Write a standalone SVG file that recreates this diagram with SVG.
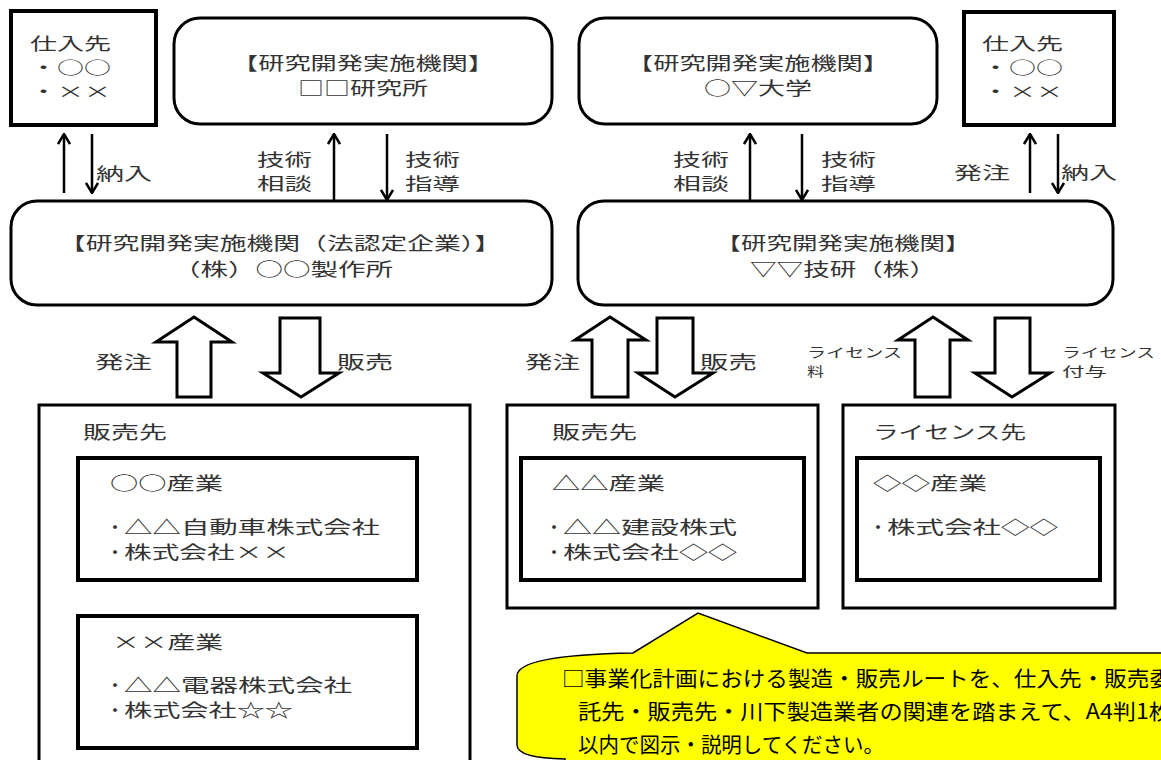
<svg xmlns="http://www.w3.org/2000/svg" width="1161" height="760" viewBox="0 0 1161 760">
<style>
.t{font-family:"Noto Sans CJK JP","Noto Sans CJK SC",sans-serif;font-size:18px;fill:#333}
.k{font-family:"Noto Sans CJK JP","Noto Sans CJK SC",sans-serif;font-size:16.5px;fill:#333}
.s{font-family:"Noto Sans CJK JP","Noto Sans CJK SC",sans-serif;font-size:13px;fill:#333}
.c{font-family:"Noto Sans CJK JP","Noto Sans CJK SC",sans-serif;font-size:21px;fill:#000}
.m{text-anchor:middle}
.box{fill:#fff;stroke:#000;stroke-width:4}
.ob{fill:#fff;stroke:#000;stroke-width:3}
.rb{fill:#fff;stroke:#000;stroke-width:3}
.ln{fill:none;stroke:#000;stroke-width:2.5;marker-end:url(#ah)}
.blk{fill:#fff;stroke:#000;stroke-width:3;stroke-linejoin:miter}
</style>
<defs>
<marker id="ah" viewBox="0 0 12 14" refX="11" refY="7" markerWidth="12" markerHeight="14" markerUnits="userSpaceOnUse" orient="auto">
<path d="M1,1 L11,7 L1,13" fill="none" stroke="#000" stroke-width="2.5"/>
</marker>
</defs>
<rect width="1161" height="760" fill="#fff"/>

<g id="supplier-left">
<rect class="box" x="11" y="11" width="145" height="114"/>
<text class="k" x="30" y="50" textLength="81" lengthAdjust="spacingAndGlyphs">仕入先</text>
<text class="k" x="30" y="74" textLength="81" lengthAdjust="spacingAndGlyphs">・○○</text>
<text class="k" x="30" y="98" textLength="81" lengthAdjust="spacingAndGlyphs">・××</text>
</g>

<g id="lab-left">
<rect class="rb" x="174" y="18" width="378" height="106" rx="26"/>
<text class="t m" x="363" y="70" textLength="262" lengthAdjust="spacingAndGlyphs">【研究開発実施機関】</text>
<text class="t m" x="363" y="95" textLength="130" lengthAdjust="spacingAndGlyphs">□□研究所</text>
</g>

<g id="lab-right">
<rect class="rb" x="579" y="18" width="358" height="106" rx="26"/>
<text class="t m" x="758" y="70" textLength="262" lengthAdjust="spacingAndGlyphs">【研究開発実施機関】</text>
<text class="t m" x="758" y="95" textLength="108" lengthAdjust="spacingAndGlyphs">○▽大学</text>
</g>

<g id="supplier-right">
<rect class="box" x="964" y="12" width="150" height="113"/>
<text class="k" x="982" y="50" textLength="81" lengthAdjust="spacingAndGlyphs">仕入先</text>
<text class="k" x="982" y="74" textLength="81" lengthAdjust="spacingAndGlyphs">・○○</text>
<text class="k" x="982" y="98" textLength="81" lengthAdjust="spacingAndGlyphs">・××</text>
</g>

<g id="company-left">
<rect class="rb" x="11" y="201" width="541" height="104" rx="26"/>
<text class="t m" x="280" y="250" textLength="442" lengthAdjust="spacingAndGlyphs">【研究開発実施機関（法認定企業）】</text>
<text class="t m" x="283" y="276" textLength="220" lengthAdjust="spacingAndGlyphs">（株）○○製作所</text>
</g>

<g id="company-right">
<rect class="rb" x="578" y="201" width="535" height="104" rx="26"/>
<text class="t m" x="843" y="250" textLength="255" lengthAdjust="spacingAndGlyphs">【研究開発実施機関】</text>
<text class="t m" x="843" y="276" textLength="186" lengthAdjust="spacingAndGlyphs">▽▽技研（株）</text>
</g>

<g id="sales-left">
<rect class="ob" x="39" y="405" width="431" height="370"/>
<text class="t" x="83" y="439" textLength="84" lengthAdjust="spacingAndGlyphs">販売先</text>
<rect class="box" x="78" y="458" width="339" height="122"/>
<text class="t" x="110" y="490" textLength="113" lengthAdjust="spacingAndGlyphs">○○産業</text>
<text class="t" x="106" y="534">・<tspan x="124" textLength="256" lengthAdjust="spacingAndGlyphs">△△自動車株式会社</tspan></text>
<text class="t" x="106" y="559">・<tspan x="124" textLength="166" lengthAdjust="spacingAndGlyphs">株式会社××</tspan></text>
<rect class="box" x="78" y="616" width="339" height="132"/>
<text class="t" x="112" y="649" textLength="111" lengthAdjust="spacingAndGlyphs">××産業</text>
<text class="t" x="106" y="692">・<tspan x="124" textLength="228" lengthAdjust="spacingAndGlyphs">△△電器株式会社</tspan></text>
<text class="t" x="106" y="717">・<tspan x="124" textLength="169" lengthAdjust="spacingAndGlyphs">株式会社☆☆</tspan></text>
</g>

<g id="sales-middle">
<rect class="ob" x="507" y="405" width="311" height="203"/>
<text class="t" x="552" y="439" textLength="85" lengthAdjust="spacingAndGlyphs">販売先</text>
<rect class="box" x="521" y="458" width="283" height="122"/>
<text class="t" x="552" y="490" textLength="113" lengthAdjust="spacingAndGlyphs">△△産業</text>
<text class="t" x="545" y="534">・<tspan x="563" textLength="174" lengthAdjust="spacingAndGlyphs">△△建設株式</tspan></text>
<text class="t" x="545" y="559">・<tspan x="563" textLength="174" lengthAdjust="spacingAndGlyphs">株式会社◇◇</tspan></text>
</g>

<g id="licensee">
<rect class="ob" x="843" y="405" width="272" height="203"/>
<text class="t" x="873" y="439" textLength="153" lengthAdjust="spacingAndGlyphs">ライセンス先</text>
<rect class="box" x="857" y="458" width="243" height="122"/>
<text class="t" x="873" y="490" textLength="114" lengthAdjust="spacingAndGlyphs">◇◇産業</text>
<text class="t" x="869" y="534">・<tspan x="887" textLength="171" lengthAdjust="spacingAndGlyphs">株式会社◇◇</tspan></text>
</g>

<g id="connectors">
<line class="ln" x1="64" y1="193" x2="64" y2="134"/>
<line class="ln" x1="92" y1="134" x2="92" y2="193"/>
<line class="ln" x1="334" y1="201" x2="334" y2="134"/>
<line class="ln" x1="387" y1="134" x2="387" y2="200"/>
<line class="ln" x1="750" y1="201" x2="750" y2="134"/>
<line class="ln" x1="802" y1="134" x2="802" y2="200"/>
<line class="ln" x1="1030" y1="193" x2="1030" y2="134"/>
<line class="ln" x1="1058" y1="134" x2="1058" y2="193"/>
<text class="k" x="96" y="180" textLength="56" lengthAdjust="spacingAndGlyphs">納入</text>
<text class="k" x="257" y="166" textLength="55" lengthAdjust="spacingAndGlyphs">技術</text>
<text class="k" x="257" y="190" textLength="55" lengthAdjust="spacingAndGlyphs">相談</text>
<text class="k" x="405" y="166" textLength="55" lengthAdjust="spacingAndGlyphs">技術</text>
<text class="k" x="405" y="190" textLength="55" lengthAdjust="spacingAndGlyphs">指導</text>
<text class="k" x="673" y="166" textLength="56" lengthAdjust="spacingAndGlyphs">技術</text>
<text class="k" x="673" y="190" textLength="56" lengthAdjust="spacingAndGlyphs">相談</text>
<text class="k" x="821" y="166" textLength="55" lengthAdjust="spacingAndGlyphs">技術</text>
<text class="k" x="821" y="190" textLength="55" lengthAdjust="spacingAndGlyphs">指導</text>
<text class="k" x="954" y="179" textLength="56" lengthAdjust="spacingAndGlyphs">発注</text>
<text class="k" x="1061" y="179" textLength="56" lengthAdjust="spacingAndGlyphs">納入</text>

<polygon class="blk" points="194,317 232,342 211,342 211,397 177,397 177,342 156,342"/>
<polygon class="blk" points="280,318 320,318 320,373 339,373 301,397 263,373 280,373"/>
<polygon class="blk" points="610,317 646,340 628,340 628,397 592,397 592,340 575,340"/>
<polygon class="blk" points="657,318 693,318 693,373 713,373 675,397 638,373 657,373"/>
<polygon class="blk" points="933,317 968,340 950,340 950,397 915,397 915,340 898,340"/>
<polygon class="blk" points="995,318 1030,318 1030,373 1050,373 1012,397 975,373 995,373"/>
<text class="t" x="95" y="369" textLength="57" lengthAdjust="spacingAndGlyphs">発注</text>
<text class="t" x="337" y="369" textLength="56" lengthAdjust="spacingAndGlyphs">販売</text>
<text class="t" x="525" y="369" textLength="55" lengthAdjust="spacingAndGlyphs">発注</text>
<text class="t" x="700" y="369" textLength="57" lengthAdjust="spacingAndGlyphs">販売</text>
<text class="s" x="807" y="357" textLength="95" lengthAdjust="spacingAndGlyphs">ライセンス</text>
<text class="s" x="807" y="376" textLength="17" lengthAdjust="spacingAndGlyphs">料</text>
<text class="s" x="1062" y="357" textLength="93" lengthAdjust="spacingAndGlyphs">ライセンス</text>
<text class="s" x="1062" y="376" textLength="45" lengthAdjust="spacingAndGlyphs">付与</text>
</g>

<g id="callout">
<path d="M565,759 Q517,758 517,745 L517,676 Q517,655 633,653 L698,613 L807,653 L1175,653 L1175,762 L565,762 Z" fill="#ffff00" stroke="#000" stroke-width="1.5"/>
<text class="c" x="562" y="686" textLength="610" lengthAdjust="spacingAndGlyphs">□事業化計画における製造・販売ルートを、仕入先・販売委</text>
<text class="c" x="578" y="719" textLength="594" lengthAdjust="spacingAndGlyphs">託先・販売先・川下製造業者の関連を踏まえて、A4判1枚</text>
<text class="c" x="578" y="752" textLength="306" lengthAdjust="spacingAndGlyphs">以内で図示・説明してください。</text>
</g>
</svg>
